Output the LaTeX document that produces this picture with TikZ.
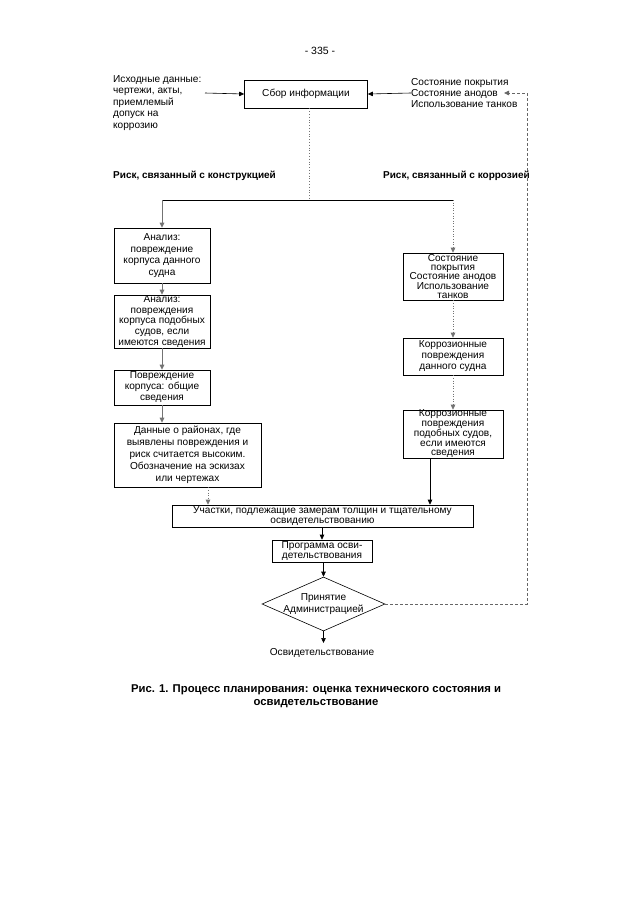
\documentclass[tikz,border=0pt]{standalone}
\usepackage{fontspec}
\setmainfont{Liberation Sans}
\usetikzlibrary{arrows.meta,shapes.geometric,calc}
\begin{document}
\begin{tikzpicture}[x=1pt,y=-1pt,
  txt/.style={font=\fontsize{10.1}{#1}\selectfont, inner sep=0pt, align=center},
  txt/.default=11.3,
  box/.style={draw, line width=0.6pt, txt=#1},
  box/.default=11.3,
  arr/.style={line width=0.6pt, -{Triangle[length=5pt,width=4.5pt]}},
  darr/.style={arr, draw=black!55, dotted, line width=0.8pt},
  garr/.style={arr, draw=black!55, line width=1pt},
  dashline/.style={draw=black!60, line width=0.8pt, dash pattern=on 3pt off 2pt},
  bold/.style={font=\fontsize{10}{12}\selectfont\bfseries, inner sep=0pt}
]
\fill[white] (0,0) rectangle (640,905);
\node[font=\fontsize{10.5}{12}\selectfont, inner sep=0pt] (pg) at (320,51) {- 335 -};

% top
\node[box, minimum width=123, minimum height=28] (sbor) at (306,94) {Сбор информации};
\node[txt=11.5, align=left, anchor=north west] (lt) at (113,75) {Исходные данные:\\чертежи, акты,\\приемлемый\\допуск на\\коррозию};
\coordinate (ltend) at (205,93);
\node[txt=11, align=left, anchor=west] (rt) at (411,93) {Состояние покрытия\\Состояние анодов\\Использование танков};
\coordinate (rtarr) at (504,93);
\draw[arr] (ltend) -- (sbor.west);
\draw[arr] (rt.west) -- (sbor.east);

\node[bold, anchor=west] (lab1) at (113,176) {Риск, связанный с конструкцией};
\node[bold, anchor=east] (lab2) at (530,176) {Риск, связанный с коррозией};

% left column
\node[box=11.6, minimum width=96, minimum height=55] (b1) at (162,255.5) {Анализ:\\повреждение\\корпуса данного\\судна};
\node[box=10.8, minimum width=96, minimum height=53] (b2) at (162,321.5) {Анализ:\\повреждения\\корпуса подобных\\судов, если\\имеются сведения};
\node[box=11, minimum width=96, minimum height=35] (b3) at (162,387.5) {Повреждение\\корпуса: общие\\сведения};
\node[box=12, minimum width=147, minimum height=64] (b4) at (187.5,455) {Данные о районах, где\\выявлены повреждения и\\риск считается высоким.\\Обозначение на эскизах\\или чертежах};

% right column
\node[box=9.4, minimum width=100, minimum height=47] (r1) at (453,276.5) {Состояние\\покрытия\\Состояние анодов\\Использование\\танков};
\node[box=11, minimum width=100, minimum height=37] (r2) at (453,356.5) {Коррозионные\\повреждения\\данного судна};
\node[box=9.5, minimum width=100, minimum height=48] (r3) at (453,434) {Коррозионные\\повреждения\\подобных судов,\\если имеются\\сведения};

% bottom
\node[box=10.2, minimum width=301, minimum height=22] (main) at (322.5,516) {Участки, подлежащие замерам толщин и тщательному\\освидетельствованию};
\node[box=10.2, minimum width=100, minimum height=22] (prog) at (322,551) {Программа осви-\\детельствования};
\node[draw, line width=0.6pt, shape=diamond, txt=11.5, aspect=2.28, inner sep=-3pt, minimum width=123, minimum height=54] (dia) at (323.5,604) {Принятие\\Администрацией};
\coordinate (endc) at (323.5,643);
\node[txt] (osv) at (322,653) {Освидетельствование};

\node[font=\fontsize{11.3}{13.5}\selectfont\bfseries, inner sep=0pt, align=center] (cap) at (316,696) {Рис. 1. Процесс планирования: оценка технического состояния и\\освидетельствование};

% connectors
\coordinate (split) at (309,200);
\draw[draw=black!55, dotted, line width=0.8pt] (sbor.south -| split) -- (split);
\draw[line width=0.6pt] (b1.north |- split) -- (r1.north |- split);
\draw[garr] (b1.north |- split) -- (b1.north);
\draw[darr] (r1.north |- split) -- (r1.north);
\draw[garr] (b1.south) -- (b2.north);
\draw[garr] (b2.south) -- (b3.north);
\draw[garr] (b3.south) -- (b3.south |- b4.north);
\coordinate (b4x) at (208,0);
\draw[darr] (b4.south -| b4x) -- (main.north -| b4x);
\draw[darr] (r1.south) -- (r2.north);
\draw[darr] (r2.south) -- (r3.north);
\coordinate (r3x) at (430,0);
\draw[arr] (r3.south -| r3x) -- (main.north -| r3x);
\draw[arr] (main.south -| prog.north) -- (prog.north);
\draw[arr] (prog.south -| dia.north) -- (dia.north);
\draw[arr] (dia.south) -- (endc);
\coordinate (dr) at (527,604);
\draw[dashline, -{Triangle[length=5pt,width=4.5pt]}] (dia.east) -- (dr) -- (dr |- rtarr) -- (rtarr);
\end{tikzpicture}
\end{document}
